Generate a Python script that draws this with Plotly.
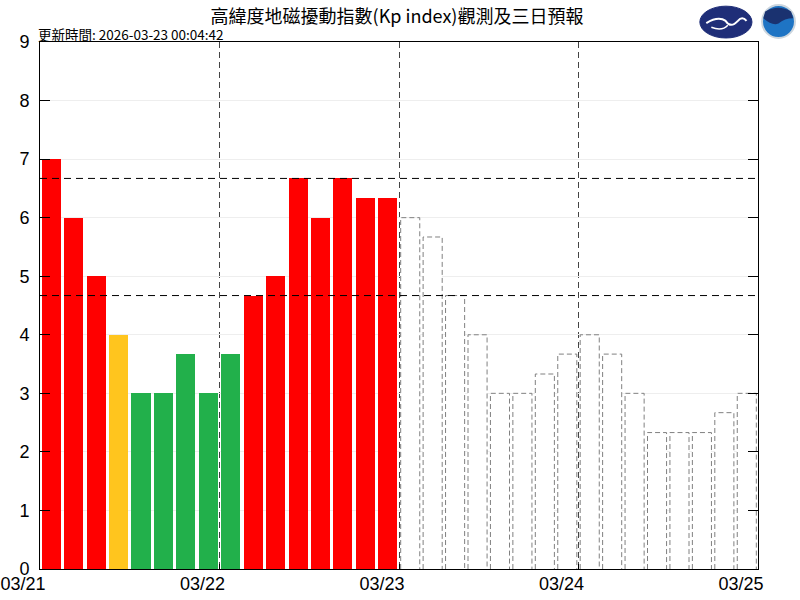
import pandas as pd
import plotly.graph_objects as go

# ---- data ----
obs_start = "2026-03-21 01:30"
fc_start = "2026-03-23 01:30"
obs_kp = [7.0, 6.0, 5.0, 4.0, 3.0, 3.0, 3.67, 3.0,
          3.67, 4.67, 5.0, 6.67, 6.0, 6.67, 6.33, 6.33]
fc_kp = [6.0, 5.67, 4.67, 4.0, 3.0, 3.0, 3.33, 3.67,
         4.0, 3.67, 3.0, 2.33, 2.33, 2.33, 2.67, 3.0]
day_ticks = ["2026-03-21", "2026-03-22", "2026-03-23", "2026-03-24", "2026-03-25"]
day_labels = ["03/21", "03/22", "03/23", "03/24", "03/25"]
thresholds = [4.67, 6.67]
title_text = "高緯度地磁擾動指數(Kp index)觀測及三日預報"
update_text = "更新時間: 2026-03-23 00:04:42"

obs_t = pd.date_range(obs_start, periods=len(obs_kp), freq="3h")
fc_t = pd.date_range(fc_start, periods=len(fc_kp), freq="3h")
bar_w = pd.Timedelta(hours=2.55)
bar_w_ms = bar_w.total_seconds() * 1000


def kp_color(v):
    if v >= 4.5:
        return "#FF0000"
    if v >= 4:
        return "#FFC51E"
    return "#22B04B"


fig = go.Figure()
fig.add_trace(go.Bar(x=obs_t, y=obs_kp, width=bar_w_ms,
                     marker=dict(color=[kp_color(v) for v in obs_kp], line=dict(width=0)),
                     showlegend=False, hoverinfo="x+y"))
fig.add_trace(go.Bar(x=fc_t, y=fc_kp, width=bar_w_ms,
                     marker=dict(color="white", line=dict(width=0)),
                     showlegend=False, hoverinfo="x+y"))

# dashed outlines of forecast bars
ox, oy = [], []
for t, v in zip(fc_t, fc_kp):
    x0 = t - bar_w / 2
    x1 = t + bar_w / 2
    ox += [x0, x0, x1, x1, None]
    oy += [0, v, v, 0, None]
fig.add_trace(go.Scatter(x=ox, y=oy, mode="lines",
                         line=dict(color="#808080", width=1, dash="5px,3px"),
                         showlegend=False, hoverinfo="skip"))

for th in thresholds:
    fig.add_hline(y=th, line=dict(color="black", width=1, dash="7px,5px"), layer="above")

# logos (approximate)
fig.add_shape(type="circle", xref="paper", yref="paper",
              x0=0.919, x1=0.9916, y0=1.0076, y1=1.068,
              fillcolor="#1F2E78", line=dict(color="#1F2E78", width=1))
fig.add_shape(type="path", xref="paper", yref="paper",
              path="M 0.928 1.036 Q 0.945 1.05 0.955 1.04 Q 0.962 1.025 0.972 1.04 Q 0.978 1.05 0.984 1.04",
              line=dict(color="white", width=2))
fig.add_shape(type="path", xref="paper", yref="paper",
              path="M 0.935 1.028 Q 0.95 1.02 0.958 1.032",
              line=dict(color="white", width=1.5))
fig.add_shape(type="circle", xref="paper", yref="paper",
              x0=1.0056, x1=1.0515, y0=1.0076, y1=1.0702,
              fillcolor="#1E74C4", line=dict(color="#CDD6DE", width=2))
fig.add_shape(type="path", xref="paper", yref="paper",
              path="M 1.0075 1.045 Q 1.02 1.03 1.0285 1.035 Q 1.037 1.045 1.049 1.045 L 1.046 1.058 Q 1.0285 1.072 1.01 1.058 Z",
              fillcolor="#1A3270", line=dict(width=0))

fig.add_annotation(text=update_text, xref="paper", yref="paper",
                   x=-0.0056, y=1.0152, xanchor="left", yanchor="middle",
                   showarrow=False,
                   font=dict(family="Noto Sans CJK TC", size=13.5, color="black"))

fig.update_layout(
    width=800, height=600,
    margin=dict(l=40, r=42, t=42, b=31),
    plot_bgcolor="white", paper_bgcolor="white",
    bargap=0,
    title=dict(text=title_text, x=397 / 800, xanchor="center", y=1 - 17 / 600,
               yref="container", yanchor="middle", automargin=False,
               font=dict(family="Noto Sans CJK TC", size=18, color="black")),
    xaxis=dict(type="date", range=[day_ticks[0], day_ticks[-1]],
               tickvals=day_ticks, ticktext=day_labels, automargin=False,
               ticks="inside", ticklen=5, tickcolor="black",
               showline=True, linecolor="black", linewidth=1, mirror=True,
               showgrid=True, gridcolor="#444444", griddash="6px,4px", gridwidth=1,
               ticklabelshift=-17, ticklabelstandoff=-2, ticklabeloverflow="allow",
               tickfont=dict(family="Liberation Sans", size=18, color="black"),
               zeroline=False),
    yaxis=dict(range=[0, 9], dtick=1, tick0=0, automargin=False,
               ticks="inside", ticklen=10, tickcolor="black",
               showline=True, linecolor="black", linewidth=1, mirror="ticks",
               showgrid=True, gridcolor="#EEEEEE", gridwidth=1,
               ticklabelstandoff=6, ticklabeloverflow="allow",
               tickfont=dict(family="Liberation Sans", size=18, color="black"),
               zeroline=False),
)

fig.write_html("out.html", config={"displayModeBar": False},
               post_script="document.body.style.margin='0';document.body.style.padding='0';")
